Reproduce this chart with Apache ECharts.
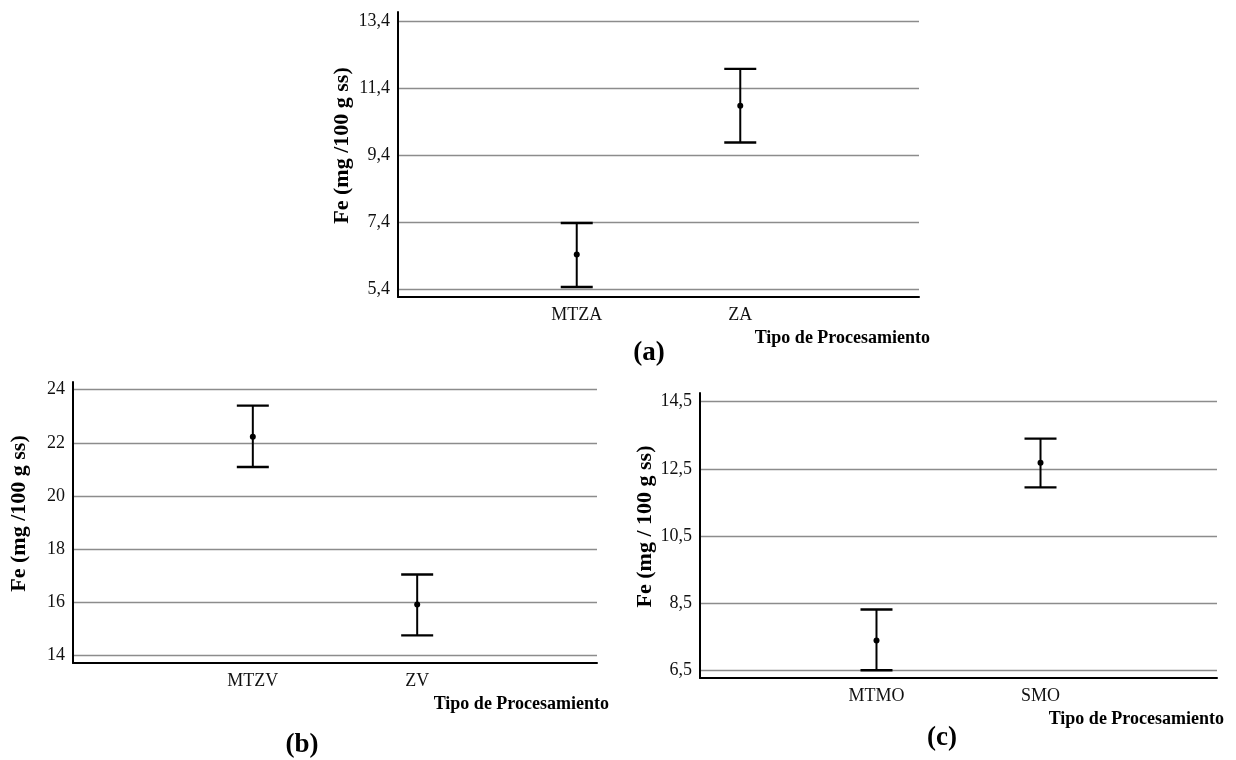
<!DOCTYPE html>
<html>
<head>
<meta charset="utf-8">
<title>Fe por tipo de procesamiento</title>
<script src="https://cdn.jsdelivr.net/npm/echarts@6/dist/echarts.min.js"></script>
<style>
  html, body { margin: 0; padding: 0; background: #fff; }
  #chart { width: 1236px; height: 760px; }
</style>
</head>
<body>
<div id="chart"></div>
<script>
// Panel (a): media e intervalo de Fe
const catsA = ['MTZA', 'ZA'];
const meanA = [6.44, 10.89];
const lowA = [5.47, 9.79];
const highA = [7.38, 11.99];
const ticksA = [5.4, 7.4, 9.4, 11.4, 13.4];

// Panel (b)
const catsB = ['MTZV', 'ZV'];
const meanB = [22.23, 15.91];
const lowB = [21.09, 14.75];
const highB = [23.40, 17.04];
const ticksB = [14, 16, 18, 20, 22, 24];

// Panel (c)
const catsC = ['MTMO', 'SMO'];
const meanC = [7.39, 12.68];
const lowC = [6.50, 11.95];
const highC = [8.31, 13.40];
const ticksC = [6.5, 8.5, 10.5, 12.5, 14.5];

const FONT = '"Liberation Serif", "Times New Roman", serif';
const comma1 = v => v.toFixed(1).replace('.', ',');
const integer = v => String(Math.round(v));

function errorBarRenderer(params, api) {
  const x = api.value(0);
  const mid = api.coord([x, api.value(1)]);
  const lo = api.coord([x, api.value(2)]);
  const hi = api.coord([x, api.value(3)]);
  const half = 16;
  return {
    type: 'group',
    children: [
      { type: 'line', shape: { x1: lo[0], y1: lo[1], x2: hi[0], y2: hi[1] }, style: { stroke: '#000', lineWidth: 2 } },
      { type: 'line', shape: { x1: hi[0] - half, y1: hi[1], x2: hi[0] + half, y2: hi[1] }, style: { stroke: '#000', lineWidth: 2.4 } },
      { type: 'line', shape: { x1: lo[0] - half, y1: lo[1], x2: lo[0] + half, y2: lo[1] }, style: { stroke: '#000', lineWidth: 2.4 } },
      { type: 'circle', shape: { cx: mid[0], cy: mid[1], r: 3 }, style: { fill: '#000' } }
    ]
  };
}

const option = { animation: false, grid: [], xAxis: [], yAxis: [], series: [] };

function addPanel(p) {
  const i = option.grid.length;
  option.grid.push({ left: p.left, top: p.top, width: p.width, height: p.height, containLabel: false });
  option.xAxis.push({
    gridIndex: i, type: 'value', min: -p.pad, max: 1 + p.pad,
    axisLine: { show: true, onZero: false, lineStyle: { color: '#000', width: 2 } },
    axisTick: { show: false, customValues: [0, 1] },
    axisLabel: {
      customValues: [0, 1], formatter: v => p.cats[Math.round(v)],
      fontFamily: FONT, fontSize: 18, color: '#111', margin: 9
    },
    splitLine: { show: false },
    name: 'Tipo de Procesamiento', nameLocation: 'end', nameGap: p.nameGapX,
    nameTextStyle: {
      fontFamily: FONT, fontSize: 18, fontWeight: 'bold', color: '#000',
      align: 'right', verticalAlign: 'top', padding: [32, 0, 0, 0]
    }
  });
  option.yAxis.push({
    gridIndex: i, type: 'value', min: p.min, max: p.max,
    axisLine: { show: true, onZero: false, lineStyle: { color: '#000', width: 2 } },
    axisTick: { show: false, customValues: p.ticks },
    axisLabel: {
      customValues: p.ticks, formatter: p.fmt,
      fontFamily: FONT, fontSize: 18, color: '#111', margin: 8
    },
    splitLine: { show: true, lineStyle: { color: '#8c8c8c', width: 1.3 } },
    name: p.yName, nameLocation: 'middle', nameRotate: 90, nameGap: p.nameGapY,
    nameTextStyle: {
      fontFamily: FONT, fontSize: 22, fontWeight: 'bold', color: '#000',
      padding: [0, 0, 0, 18]
    }
  });
  option.series.push({
    type: 'custom', xAxisIndex: i, yAxisIndex: i,
    renderItem: errorBarRenderer,
    encode: { x: 0, y: [1, 2, 3] },
    data: p.cats.map((c, k) => [k, p.mean[k], p.low[k], p.high[k]])
  });
}

addPanel({
  left: 398, top: 12, width: 521, height: 285, pad: 1.093,
  min: 5.17, max: 13.69, ticks: ticksA, fmt: comma1,
  cats: catsA, mean: meanA, low: lowA, high: highA,
  yName: 'Fe (mg /100 g ss)', nameGapY: 45, nameGapX: 11
});
addPanel({
  left: 73, top: 382, width: 524, height: 281, pad: 1.094,
  min: 13.71, max: 24.29, ticks: ticksB, fmt: integer,
  cats: catsB, mean: meanB, low: lowB, high: highB,
  yName: 'Fe (mg /100 g ss)', nameGapY: 43, nameGapX: 12
});
addPanel({
  left: 700, top: 393, width: 517, height: 285, pad: 1.076,
  min: 6.27, max: 14.76, ticks: ticksC, fmt: comma1,
  cats: catsC, mean: meanC, low: lowC, high: highC,
  yName: 'Fe (mg / 100 g ss)', nameGapY: 40, nameGapX: 7
});

const panelLabel = (text, x, y) => ({
  type: 'text', x: x, y: y,
  style: { text: text, fontFamily: FONT, fontSize: 27, fontWeight: 'bold', fill: '#000', textAlign: 'center', textVerticalAlign: 'middle' }
});
option.graphic = [panelLabel('(a)', 649, 353), panelLabel('(b)', 302, 745), panelLabel('(c)', 942, 738)];

echarts.init(document.getElementById('chart'), null, { renderer: 'canvas' }).setOption(option);
</script>
</body>
</html>
